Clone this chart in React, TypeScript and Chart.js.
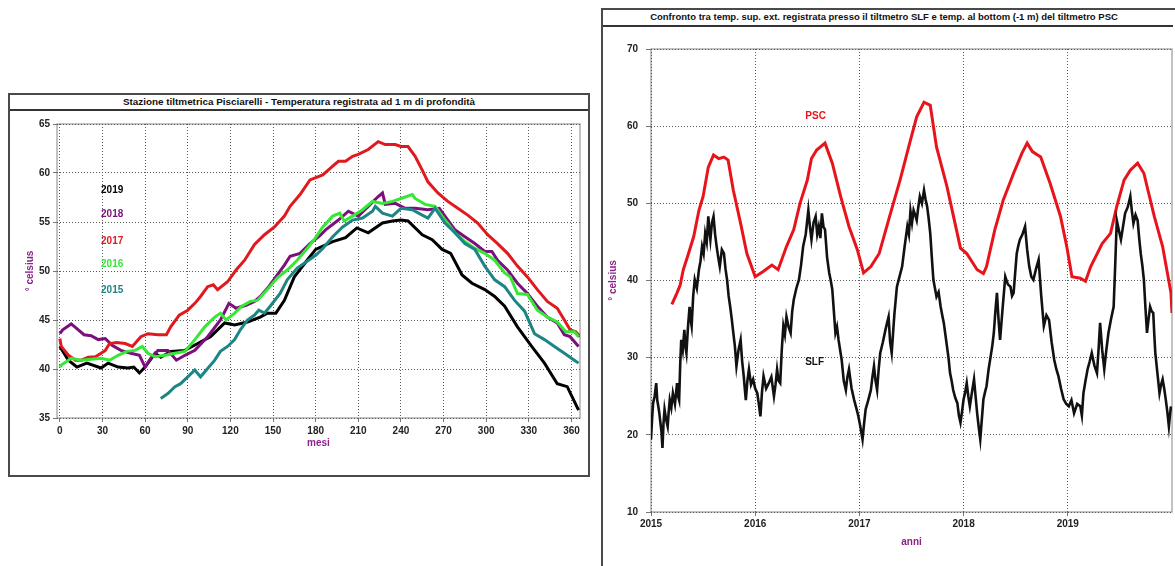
import React, { useEffect, useRef } from "react";
import { Chart, registerables } from "chart.js";

Chart.register(...registerables);

const FONT = "'Liberation Sans', Arial, sans-serif";
const AXIS_TITLE_COLOR = "#8B238B";

// ---------- Left chart: daily temperature at 1 m (Pisciarelli), by year ----------
const dayTicks = [0, 30, 60, 90, 120, 150, 180, 210, 240, 270, 300, 330, 360];

const days2019 = [0, 6, 12, 19, 29, 34, 41, 48, 52, 56, 60, 67, 71, 78, 88, 97, 106, 116, 123, 132, 141, 146, 152, 158, 165, 174, 180, 192, 201, 209, 217, 227, 234, 240, 245, 255, 262, 269, 275, 283, 290, 299, 306, 313, 322, 332, 341, 350, 357, 365];
const temp2019 = [42.3, 40.9, 40.2, 40.6, 40.1, 40.6, 40.2, 40.1, 40.2, 39.6, 40.2, 41.6, 41.2, 41.8, 41.9, 42.6, 43.3, 44.7, 44.5, 44.8, 45.3, 45.7, 45.7, 47.0, 49.4, 51.1, 52.2, 53.0, 53.4, 54.4, 53.9, 54.9, 55.1, 55.2, 55.1, 53.7, 53.2, 52.2, 51.8, 49.6, 48.75, 48.1, 47.4, 46.4, 44.3, 42.3, 40.6, 38.5, 38.2, 35.8];

const days2018 = [0, 2, 8, 13, 17, 22, 27, 32, 37, 43, 50, 56, 60, 64, 69, 76, 82, 88, 95, 104, 113, 119, 124, 131, 137, 141, 147, 152, 158, 162, 169, 176, 183, 187, 196, 203, 210, 217, 224, 227, 229, 236, 243, 250, 259, 267, 271, 278, 285, 292, 299, 304, 308, 315, 322, 329, 336, 343, 350, 355, 359, 365];
const temp2018 = [43.6, 44.0, 44.6, 44.0, 43.5, 43.4, 43.0, 43.1, 42.4, 41.9, 41.6, 41.4, 40.2, 41.1, 41.9, 41.9, 40.9, 41.4, 41.9, 43.3, 45.0, 46.7, 46.2, 46.5, 46.9, 47.4, 48.4, 49.4, 50.6, 51.5, 51.8, 52.8, 53.6, 54.2, 55.2, 56.1, 55.6, 56.6, 57.6, 57.96, 56.8, 56.9, 56.4, 56.4, 56.25, 56.4, 55.6, 54.2, 53.5, 52.8, 52.0, 52.0, 51.1, 50.1, 48.75, 47.7, 46.4, 45.3, 44.7, 43.5, 43.3, 42.3];

const days2017 = [0, 1, 6, 11, 15, 20, 25, 29, 32, 35, 40, 46, 51, 57, 62, 69, 75, 78, 84, 90, 95, 99, 104, 108, 111, 118, 124, 130, 137, 144, 151, 158, 162, 169, 176, 185, 192, 196, 201, 206, 210, 217, 224, 229, 236, 240, 245, 250, 255, 259, 266, 273, 280, 287, 294, 301, 308, 315, 322, 329, 336, 343, 350, 355, 359, 363, 366];
const temp2017 = [43.1, 42.3, 41.4, 40.9, 40.9, 41.2, 41.25, 41.6, 41.9, 42.6, 42.7, 42.6, 42.3, 43.3, 43.6, 43.5, 43.5, 44.3, 45.5, 46.0, 46.7, 47.4, 48.4, 48.6, 48.1, 48.9, 50.1, 51.1, 52.7, 53.7, 54.5, 55.6, 56.6, 57.8, 59.3, 59.8, 60.7, 61.2, 61.2, 61.7, 61.9, 62.4, 63.2, 62.9, 62.9, 62.7, 62.7, 61.7, 60.3, 59.1, 57.96, 57.1, 56.4, 55.7, 54.9, 53.7, 52.8, 51.8, 50.5, 49.4, 48.1, 46.9, 46.2, 45.0, 44.0, 43.8, 43.3];

const days2016 = [0, 1, 8, 15, 22, 29, 35, 41, 47, 53, 58, 62, 67, 74, 81, 88, 95, 102, 109, 113, 117, 123, 128, 134, 139, 146, 153, 160, 167, 174, 180, 185, 192, 197, 200, 206, 213, 220, 227, 234, 240, 248, 250, 257, 264, 271, 278, 285, 292, 299, 306, 313, 317, 322, 329, 336, 343, 350, 356, 362, 365];
const temp2016 = [40.2, 40.4, 41.1, 40.9, 41.0, 41.1, 40.9, 41.4, 41.8, 41.9, 42.3, 41.6, 41.25, 41.4, 41.6, 41.8, 43.0, 44.3, 45.3, 45.7, 45.0, 45.7, 46.4, 46.9, 47.0, 48.1, 49.3, 50.1, 51.1, 52.3, 53.4, 54.5, 55.6, 55.9, 55.1, 55.6, 56.25, 57.1, 56.9, 57.1, 57.4, 57.8, 57.4, 56.8, 56.6, 55.2, 53.9, 53.0, 52.3, 51.8, 51.1, 49.8, 49.4, 47.7, 47.6, 46.0, 45.3, 44.8, 43.8, 43.8, 43.3];

const days2015 = [71, 76, 81, 85, 90, 95, 99, 104, 109, 113, 118, 123, 127, 132, 137, 140, 144, 148, 155, 160, 167, 174, 180, 185, 192, 199, 206, 213, 220, 222, 227, 234, 240, 248, 255, 259, 264, 271, 278, 285, 292, 299, 306, 313, 320, 327, 334, 341, 348, 355, 362, 365];
const temp2015 = [37.0, 37.5, 38.2, 38.5, 39.2, 39.9, 39.2, 40.05, 40.9, 41.8, 42.3, 43.0, 44.0, 45.0, 45.5, 46.0, 45.7, 46.4, 47.7, 49.1, 50.3, 51.0, 51.6, 52.3, 53.5, 54.5, 55.2, 55.4, 56.1, 56.6, 55.9, 55.6, 56.4, 56.25, 55.7, 55.4, 56.4, 54.9, 53.9, 52.8, 52.2, 50.5, 49.1, 48.4, 47.0, 45.9, 43.6, 43.0, 42.3, 41.6, 40.9, 40.6];

const yearNames = ["2019", "2018", "2017", "2016", "2015"];
const yearColors = ["#000000", "#7D0F7D", "#E0191E", "#35E835", "#1E8585"];
const legendDayX = [29, 29, 29, 29, 29];
const legendTempY = [58.2, 55.8, 53.0, 50.65, 48.0];

// ---------- Right chart: SLF surface vs PSC bottom (-1 m) ----------
const yearTicks = [2015, 2016, 2017, 2018, 2019];

const pscYears = [2015.20, 2015.25, 2015.28, 2015.31, 2015.36, 2015.41, 2015.46, 2015.50, 2015.55, 2015.60, 2015.65, 2015.70, 2015.74, 2015.79, 2015.86, 2015.92, 2016.00, 2016.08, 2016.16, 2016.22, 2016.30, 2016.37, 2016.43, 2016.50, 2016.54, 2016.59, 2016.67, 2016.74, 2016.82, 2016.90, 2016.98, 2017.04, 2017.11, 2017.19, 2017.29, 2017.39, 2017.49, 2017.55, 2017.62, 2017.68, 2017.74, 2017.84, 2017.97, 2018.03, 2018.13, 2018.19, 2018.22, 2018.30, 2018.38, 2018.48, 2018.56, 2018.61, 2018.66, 2018.74, 2018.83, 2018.93, 2018.99, 2019.04, 2019.12, 2019.17, 2019.22, 2019.33, 2019.41, 2019.47, 2019.54, 2019.60, 2019.67, 2019.73, 2019.83, 2019.91, 2019.99, 2020.00];
const pscTemp = [36.9, 38.4, 39.4, 41.4, 43.5, 45.7, 49.1, 50.9, 54.7, 56.25, 55.8, 56.0, 55.6, 51.7, 47.4, 43.5, 40.5, 41.2, 42.0, 41.4, 44.4, 46.6, 50.0, 53.0, 55.8, 56.9, 57.8, 55.2, 50.9, 47.0, 44.0, 41.0, 41.8, 43.5, 48.3, 53.0, 58.2, 61.2, 63.1, 62.7, 57.3, 52.2, 44.2, 43.5, 41.4, 40.9, 41.8, 46.6, 50.4, 53.9, 56.5, 57.8, 56.7, 56.0, 52.6, 48.3, 44.4, 40.5, 40.3, 39.9, 41.8, 44.8, 46.1, 49.6, 53.0, 54.3, 55.2, 53.9, 48.3, 44.4, 38.4, 35.8];

const slfYears = [2015.00, 2015.01, 2015.02, 2015.035, 2015.05, 2015.06, 2015.07, 2015.08, 2015.09, 2015.10, 2015.11, 2015.12, 2015.13, 2015.145, 2015.16, 2015.17, 2015.18, 2015.195, 2015.21, 2015.23, 2015.25, 2015.26, 2015.27, 2015.28, 2015.29, 2015.305, 2015.32, 2015.33, 2015.34, 2015.355, 2015.37, 2015.38, 2015.39, 2015.405, 2015.42, 2015.44, 2015.46, 2015.475, 2015.49, 2015.505, 2015.52, 2015.535, 2015.55, 2015.56, 2015.57, 2015.585, 2015.60, 2015.615, 2015.63, 2015.645, 2015.66, 2015.68, 2015.70, 2015.715, 2015.73, 2015.745, 2015.76, 2015.775, 2015.79, 2015.805, 2015.82, 2015.84, 2015.86, 2015.875, 2015.89, 2015.90, 2015.91, 2015.925, 2015.94, 2015.96, 2015.98, 2016.00, 2016.02, 2016.035, 2016.05, 2016.065, 2016.08, 2016.105, 2016.13, 2016.155, 2016.18, 2016.195, 2016.21, 2016.225, 2016.24, 2016.255, 2016.27, 2016.285, 2016.30, 2016.32, 2016.34, 2016.355, 2016.37, 2016.395, 2016.42, 2016.44, 2016.46, 2016.485, 2016.51, 2016.525, 2016.54, 2016.56, 2016.58, 2016.595, 2016.61, 2016.625, 2016.64, 2016.655, 2016.67, 2016.69, 2016.71, 2016.725, 2016.74, 2016.755, 2016.77, 2016.785, 2016.80, 2016.815, 2016.83, 2016.85, 2016.87, 2016.885, 2016.90, 2016.925, 2016.95, 2016.97, 2016.99, 2017.01, 2017.03, 2017.045, 2017.06, 2017.085, 2017.11, 2017.125, 2017.14, 2017.155, 2017.17, 2017.185, 2017.20, 2017.225, 2017.25, 2017.265, 2017.28, 2017.295, 2017.31, 2017.335, 2017.36, 2017.385, 2017.41, 2017.435, 2017.46, 2017.475, 2017.49, 2017.505, 2017.52, 2017.535, 2017.55, 2017.565, 2017.58, 2017.60, 2017.62, 2017.635, 2017.65, 2017.665, 2017.68, 2017.695, 2017.71, 2017.725, 2017.74, 2017.76, 2017.78, 2017.795, 2017.81, 2017.825, 2017.84, 2017.855, 2017.87, 2017.885, 2017.90, 2017.92, 2017.94, 2017.955, 2017.97, 2017.985, 2018.00, 2018.015, 2018.03, 2018.045, 2018.06, 2018.08, 2018.10, 2018.115, 2018.13, 2018.145, 2018.16, 2018.175, 2018.19, 2018.205, 2018.22, 2018.24, 2018.26, 2018.275, 2018.29, 2018.305, 2018.32, 2018.335, 2018.35, 2018.375, 2018.40, 2018.425, 2018.45, 2018.465, 2018.48, 2018.495, 2018.51, 2018.525, 2018.54, 2018.565, 2018.59, 2018.61, 2018.63, 2018.65, 2018.67, 2018.695, 2018.72, 2018.745, 2018.77, 2018.795, 2018.82, 2018.845, 2018.87, 2018.89, 2018.91, 2018.935, 2018.96, 2018.985, 2019.01, 2019.035, 2019.06, 2019.09, 2019.12, 2019.135, 2019.15, 2019.17, 2019.19, 2019.21, 2019.23, 2019.255, 2019.28, 2019.295, 2019.31, 2019.33, 2019.35, 2019.37, 2019.39, 2019.415, 2019.44, 2019.455, 2019.47, 2019.49, 2019.51, 2019.53, 2019.55, 2019.575, 2019.60, 2019.615, 2019.63, 2019.65, 2019.67, 2019.685, 2019.70, 2019.715, 2019.73, 2019.745, 2019.76, 2019.775, 2019.79, 2019.805, 2019.82, 2019.83, 2019.84, 2019.86, 2019.88, 2019.895, 2019.91, 2019.925, 2019.94, 2019.955, 2019.97, 2019.98, 2019.99];
const slfTemp = [19.4, 22.0, 24.1, 25.0, 26.7, 24.5, 23.7, 22.8, 21.6, 20.5, 18.3, 21.5, 23.3, 22.0, 21.1, 23.0, 24.5, 23.5, 25.4, 24.0, 26.7, 25.0, 24.5, 29.0, 32.3, 31.0, 33.6, 31.5, 30.6, 34.0, 36.6, 35.0, 34.1, 38.0, 40.1, 39.0, 41.4, 42.5, 44.4, 43.5, 46.1, 45.0, 48.3, 46.5, 45.3, 47.5, 48.3, 46.0, 44.4, 43.0, 41.8, 44.0, 43.5, 41.5, 40.1, 38.0, 36.6, 35.0, 33.2, 31.5, 28.9, 31.0, 32.3, 29.5, 27.6, 26.0, 24.5, 27.0, 28.5, 26.5, 27.2, 26.0, 25.4, 24.0, 22.4, 25.5, 27.6, 26.0, 26.7, 27.5, 25.0, 26.5, 28.5, 27.0, 26.7, 31.0, 34.1, 33.0, 35.3, 34.0, 33.2, 36.0, 37.5, 39.0, 40.1, 42.0, 44.4, 46.0, 49.1, 47.0, 45.3, 47.5, 48.3, 46.0, 47.0, 45.5, 48.7, 47.0, 46.6, 43.0, 41.0, 40.0, 38.8, 36.0, 33.2, 34.0, 32.3, 31.0, 29.7, 27.0, 25.8, 27.5, 28.5, 26.0, 24.5, 23.5, 22.4, 21.0, 19.4, 21.5, 23.3, 24.5, 25.8, 27.5, 28.9, 27.0, 25.8, 28.5, 30.6, 32.0, 33.6, 34.5, 35.3, 32.0, 30.6, 35.5, 39.2, 40.5, 41.8, 44.5, 47.0, 46.0, 49.0, 47.5, 49.1, 48.5, 47.8, 49.5, 50.9, 50.0, 51.7, 50.5, 49.6, 48.0, 46.1, 43.0, 40.1, 39.0, 37.9, 38.5, 36.6, 35.5, 34.5, 33.0, 31.5, 30.0, 28.0, 27.0, 25.8, 24.8, 24.1, 22.5, 21.6, 23.0, 24.6, 25.5, 26.7, 25.0, 23.7, 25.5, 27.2, 25.0, 22.8, 21.0, 19.4, 22.0, 24.6, 25.5, 26.3, 28.5, 30.2, 31.5, 33.2, 36.0, 38.4, 35.0, 32.3, 36.5, 40.5, 39.5, 39.2, 38.0, 38.4, 41.0, 43.5, 44.5, 45.3, 46.0, 47.0, 44.0, 41.8, 40.5, 40.1, 41.5, 42.7, 38.0, 34.1, 35.5, 34.9, 32.0, 29.7, 28.5, 27.6, 26.0, 24.6, 24.0, 23.7, 24.5, 22.8, 24.0, 23.7, 22.5, 25.4, 27.0, 28.5, 29.5, 30.6, 29.0, 28.0, 31.0, 34.5, 31.0, 28.5, 31.0, 33.2, 35.0, 36.6, 42.0, 47.8, 46.5, 45.3, 47.0, 48.7, 49.5, 50.9, 49.0, 47.4, 48.5, 47.8, 45.5, 43.5, 42.0, 40.1, 36.5, 33.2, 35.0, 36.6, 36.0, 35.8, 33.0, 30.6, 28.0, 25.4, 26.5, 27.2, 26.0, 24.6, 23.0, 21.1, 22.5, 23.7];

const seriesNames = ["PSC", "SLF"];
const seriesColors = ["#E8141B", "#111111"];
const seriesLabelYear = [2016.58, 2016.57];
const seriesLabelTemp = [61.3, 29.4];

function zip(xs: number[], ys: number[]) {
  return xs.map((x, i) => ({ x, y: ys[i] }));
}

const framePlugin = {
  id: "frame",
  beforeDraw(chart: any) {
    const { ctx, chartArea } = chart;
    const { left, top, right, bottom } = chartArea;
    ctx.save();
    ctx.strokeStyle = "#9a9a9a";
    ctx.lineWidth = 1.2;
    ctx.strokeRect(left, top, right - left, bottom - top);
    ctx.restore();
  },
};

function textPlugin(items: { text: string; x: number; y: number; color: string; align: string }[]) {
  return {
    id: "textLabels",
    afterDatasetsDraw(chart: any) {
      const { ctx, scales } = chart;
      ctx.save();
      ctx.font = `bold 10px ${FONT}`;
      ctx.textBaseline = "middle";
      items.forEach((it) => {
        ctx.fillStyle = it.color;
        ctx.textAlign = it.align;
        ctx.fillText(it.text, scales.x.getPixelForValue(it.x), scales.y.getPixelForValue(it.y));
      });
      ctx.restore();
    },
  };
}

function gridOpts() {
  return {
    color: "#5a5a5a",
    lineWidth: 1,
    tickLength: 4,
    tickColor: "#777",
    tickBorderDash: [],
  };
}

function LeftChart() {
  const ref = useRef<HTMLCanvasElement>(null);
  useEffect(() => {
    const sets = [
      { label: "2015", days: days2015, temps: temp2015, color: yearColors[4] },
      { label: "2016", days: days2016, temps: temp2016, color: yearColors[3] },
      { label: "2017", days: days2017, temps: temp2017, color: yearColors[2] },
      { label: "2018", days: days2018, temps: temp2018, color: yearColors[1] },
      { label: "2019", days: days2019, temps: temp2019, color: yearColors[0] },
    ];
    const labels = yearNames.map((t, i) => ({
      text: t,
      x: legendDayX[i],
      y: legendTempY[i],
      color: yearColors[i],
      align: "left",
    }));
    const chart = new Chart(ref.current as HTMLCanvasElement, {
      type: "line",
      data: {
        datasets: sets.map((s) => ({
          label: s.label,
          data: zip(s.days, s.temps),
          borderColor: s.color,
          backgroundColor: s.color,
          borderWidth: 3,
          pointRadius: 0,
          tension: 0,
          fill: false,
        })),
      },
      options: {
        animation: false,
        responsive: false,
        devicePixelRatio: 1,
        layout: { padding: { left: 14, right: 8, top: 14, bottom: 26 } },
        plugins: { legend: { display: false }, tooltip: { enabled: false }, title: { display: false } },
        scales: {
          x: {
            type: "linear",
            min: -2,
            max: 366,
            afterBuildTicks: (scale: any) => {
              scale.ticks = dayTicks.map((v) => ({ value: v }));
            },
            afterFit: (scale: any) => {
              scale.height = 31;
            },
            ticks: { color: "#222", font: { family: FONT, size: 10, weight: "bold" }, padding: 3, maxRotation: 0, callback: (v: any) => String(v) },
            grid: gridOpts(),
            border: { display: false, dash: [1, 2] },
            title: { display: true, text: "mesi", color: AXIS_TITLE_COLOR, font: { family: FONT, size: 10, weight: "bold" }, padding: 0 },
          },
          y: {
            type: "linear",
            min: 35,
            max: 65,
            ticks: { stepSize: 5, color: "#222", font: { family: FONT, size: 10, weight: "bold" }, padding: 3 },
            afterFit: (scale: any) => {
              scale.width = 33;
            },
            grid: gridOpts(),
            border: { display: false, dash: [1, 2] },
            title: { display: true, text: "° celsius", color: AXIS_TITLE_COLOR, font: { family: FONT, size: 10, weight: "bold" }, padding: 0 },
          },
        },
      } as any,
      plugins: [framePlugin, textPlugin(labels)],
    });
    return () => chart.destroy();
  }, []);
  return (
    <canvas
      ref={ref}
      width={578}
      height={365}
      style={{ position: "absolute", left: 10, top: 110, width: 578, height: 365 }}
    />
  );
}

function RightChart() {
  const ref = useRef<HTMLCanvasElement>(null);
  useEffect(() => {
    const labels = seriesNames.map((t, i) => ({
      text: t,
      x: seriesLabelYear[i],
      y: seriesLabelTemp[i],
      color: seriesColors[i],
      align: "center",
    }));
    const chart = new Chart(ref.current as HTMLCanvasElement, {
      type: "line",
      data: {
        datasets: [
          {
            label: "SLF",
            data: zip(slfYears, slfTemp),
            borderColor: seriesColors[1],
            borderWidth: 2.6,
            pointRadius: 0,
            tension: 0,
            fill: false,
          },
          {
            label: "PSC",
            data: zip(pscYears, pscTemp),
            borderColor: seriesColors[0],
            borderWidth: 3,
            pointRadius: 0,
            tension: 0,
            fill: false,
          },
        ],
      },
      options: {
        animation: false,
        responsive: false,
        devicePixelRatio: 1,
        layout: { padding: { left: 4, right: 3, top: 22, bottom: 18 } },
        plugins: { legend: { display: false }, tooltip: { enabled: false }, title: { display: false } },
        scales: {
          x: {
            type: "linear",
            min: 2015,
            max: 2020,
            afterBuildTicks: (scale: any) => {
              scale.ticks = yearTicks.map((v) => ({ value: v }));
            },
            afterFit: (scale: any) => {
              scale.height = 36;
            },
            ticks: { color: "#222", font: { family: FONT, size: 10, weight: "bold" }, padding: 2, maxRotation: 0, callback: (v: any) => String(v) },
            grid: gridOpts(),
            border: { display: false, dash: [1, 2] },
            title: { display: true, text: "anni", color: AXIS_TITLE_COLOR, font: { family: FONT, size: 10, weight: "bold" }, padding: 0 },
          },
          y: {
            type: "linear",
            min: 10,
            max: 70,
            ticks: { stepSize: 10, color: "#222", font: { family: FONT, size: 10, weight: "bold" }, padding: 8 },
            afterFit: (scale: any) => {
              scale.width = 44;
            },
            grid: { ...gridOpts(), tickLength: 5 },
            border: { display: false, dash: [1, 2] },
            title: { display: true, text: "° celsius", color: AXIS_TITLE_COLOR, font: { family: FONT, size: 10, weight: "bold" }, padding: 0 },
          },
        },
      } as any,
      plugins: [framePlugin, textPlugin(labels)],
    });
    return () => chart.destroy();
  }, []);
  return (
    <canvas
      ref={ref}
      width={572}
      height={539}
      style={{ position: "absolute", left: 603, top: 27, width: 572, height: 539 }}
    />
  );
}

export default function App() {
  return (
    <div
      style={{
        position: "absolute",
        left: 0,
        top: 0,
        width: 1175,
        height: 566,
        overflow: "hidden",
        background: "#fff",
        fontFamily: FONT,
      }}
    >
      {/* left panel box */}
      <div
        style={{
          position: "absolute",
          left: 8,
          top: 93,
          width: 582,
          height: 384,
          boxSizing: "border-box",
          border: "2px solid #4a4a4a",
        }}
      >
        <div
          style={{
            position: "absolute",
            left: 0,
            top: 0,
            right: 0,
            height: 14,
            borderBottom: "2px solid #333",
            textAlign: "center",
            fontSize: 9.9,
            fontWeight: "bold",
            lineHeight: "14px",
            color: "#111",
            whiteSpace: "nowrap",
          }}
        >
          Stazione tiltmetrica Pisciarelli - Temperatura registrata ad 1 m di profondità
        </div>
      </div>
      {/* right panel box */}
      <div
        style={{
          position: "absolute",
          left: 601,
          top: 8,
          width: 600,
          height: 600,
          boxSizing: "border-box",
          border: "2px solid #4a4a4a",
        }}
      >
        <div
          style={{
            position: "absolute",
            left: 0,
            top: 0,
            width: 570,
            height: 15,
            borderBottom: "2px solid #333",
            lineHeight: "14px",
            color: "#111",
            whiteSpace: "nowrap",
          }}
        >
          <div
            style={{
              position: "absolute",
              left: 0,
              top: 0,
              width: 562,
              textAlign: "center",
              fontSize: 9.5,
              fontWeight: "bold",
            }}
          >
            Confronto tra temp. sup. ext. registrata presso il tiltmetro SLF e temp. al bottom (-1 m) del tiltmetro PSC
          </div>
        </div>
      </div>
      <LeftChart />
      <RightChart />
    </div>
  );
}
